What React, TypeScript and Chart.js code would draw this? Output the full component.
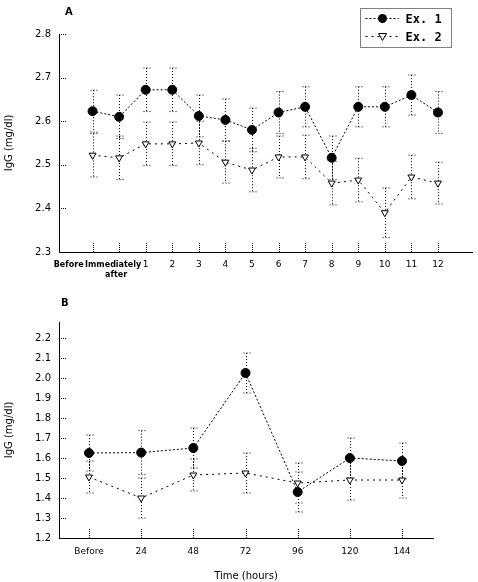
import React, { useEffect, useRef } from 'react';
import { Chart, registerables } from 'chart.js';

Chart.register(...registerables);

// ---------- Data ----------
const labelsA = ['Before', 'Immediately after', '1', '2', '3', '4', '5', '6', '7', '8', '9', '10', '11', '12'];
const ex1A = [2.623, 2.61, 2.672, 2.672, 2.612, 2.603, 2.58, 2.62, 2.633, 2.516, 2.633, 2.633, 2.66, 2.62];
const ex1AErr = [0.048, 0.05, 0.05, 0.05, 0.048, 0.048, 0.05, 0.048, 0.046, 0.05, 0.046, 0.046, 0.046, 0.048];
const ex2A = [2.522, 2.516, 2.548, 2.548, 2.55, 2.506, 2.488, 2.518, 2.518, 2.458, 2.465, 2.39, 2.472, 2.458];
const ex2AErr = [0.05, 0.05, 0.05, 0.05, 0.05, 0.048, 0.05, 0.048, 0.05, 0.05, 0.05, 0.057, 0.05, 0.048];
const yTicksA = [2.3, 2.4, 2.5, 2.6, 2.7, 2.8];

const labelsB = ['Before', '24', '48', '72', '96', '120', '144'];
const ex1B = [1.625, 1.627, 1.65, 2.025, 1.43, 1.6, 1.585];
const ex1BErr = [0.09, 0.11, 0.1, 0.1, 0.1, 0.1, 0.09];
const ex2B = [1.505, 1.4, 1.515, 1.525, 1.475, 1.49, 1.49];
const ex2BErr = [0.08, 0.1, 0.08, 0.1, 0.1, 0.1, 0.09];
const yTicksB = [1.2, 1.3, 1.4, 1.5, 1.6, 1.7, 1.8, 1.9, 2.0, 2.1, 2.2];

const seriesNames = ['Ex. 1', 'Ex. 2'];
const yTitle = 'IgG (mg/dl)';
const xTitleB = 'Time (hours)';

const FONT = 'DejaVu Sans';

// ---------- Plugins ----------
const errorBars = {
  id: 'errorBars',
  beforeDatasetsDraw(chart: any) {
    const { ctx, scales } = chart;
    const x = scales.x, y = scales.y;
    ctx.save();
    ctx.strokeStyle = '#000';
    ctx.lineWidth = 1;
    ctx.setLineDash([1, 2]);
    chart.data.datasets.forEach((ds: any) => {
      const errs = ds.errors;
      if (!errs) return;
      ds.data.forEach((p: any, i: number) => {
        const px = Math.round(x.getPixelForValue(p.x)) + 0.5;
        const top = y.getPixelForValue(p.y + errs[i]);
        const bot = y.getPixelForValue(p.y - errs[i]);
        ctx.beginPath();
        ctx.moveTo(px, top);
        ctx.lineTo(px, bot);
        ctx.moveTo(px - 3, top);
        ctx.lineTo(px + 4, top);
        ctx.moveTo(px - 3, bot);
        ctx.lineTo(px + 4, bot);
        ctx.stroke();
      });
    });
    ctx.restore();
  },
};

const inwardTicks = {
  id: 'inwardTicks',
  afterDraw(chart: any) {
    const { ctx, scales, chartArea } = chart;
    const x = scales.x, y = scales.y;
    ctx.save();
    ctx.strokeStyle = '#000';
    ctx.lineWidth = 1;
    ctx.setLineDash([1, 1]);
    y.ticks.forEach((t: any) => {
      const py = Math.round(y.getPixelForValue(t.value)) + 0.5;
      ctx.beginPath();
      ctx.moveTo(chartArea.left, py);
      ctx.lineTo(chartArea.left + 7, py);
      ctx.stroke();
    });
    x.ticks.forEach((t: any) => {
      const px = Math.round(x.getPixelForValue(t.value)) + 0.5;
      ctx.beginPath();
      ctx.moveTo(px, chartArea.bottom);
      ctx.lineTo(px, chartArea.bottom - 9);
      ctx.stroke();
    });
    ctx.restore();
  },
};

function panelLetter(letter: string, dx: number, dy: number) {
  return {
    id: 'panelLetter' + letter,
    afterDraw(chart: any) {
      const { ctx, chartArea } = chart;
      ctx.save();
      ctx.fillStyle = '#000';
      ctx.font = `bold 10px ${FONT}`;
      ctx.textAlign = 'left';
      ctx.textBaseline = 'middle';
      ctx.fillText(letter, chartArea.left + dx, dy);
      ctx.restore();
    },
  };
}

const firstLabelsA = {
  id: 'firstLabelsA',
  afterDraw(chart: any) {
    const { ctx, scales, chartArea } = chart;
    const x = scales.x;
    const p0 = x.getPixelForValue(0);
    const p1 = x.getPixelForValue(1);
    const base = chartArea.bottom + 13;
    const parts = labelsA[1].split(' ');
    ctx.save();
    ctx.fillStyle = '#000';
    ctx.font = `bold 8px ${FONT}`;
    ctx.textBaseline = 'middle';
    ctx.textAlign = 'right';
    ctx.fillText(labelsA[0], p0 - 9, base);
    ctx.textAlign = 'center';
    ctx.fillText(parts[0], p1 - 6, base);
    ctx.fillText(parts[1], p1 - 3, base + 10);
    ctx.restore();
  },
};

const legendBox = {
  id: 'legendBox',
  afterDraw(chart: any) {
    const { ctx } = chart;
    const bx = 360.5, by = 8.5, bw = 91, bh = 39;
    ctx.save();
    ctx.strokeStyle = '#000';
    ctx.lineWidth = 1;
    ctx.setLineDash([1, 1]);
    ctx.strokeRect(bx, by, bw, bh);
    const rows = [by + 10, by + 28];
    chart.data.datasets.forEach((ds: any, i: number) => {
      const yy = rows[i];
      ctx.setLineDash(ds.borderDash);
      ctx.beginPath();
      ctx.moveTo(bx + 5, yy);
      ctx.lineTo(bx + 38, yy);
      ctx.stroke();
      ctx.setLineDash([]);
      const cx = bx + 22;
      if (i === 0) {
        ctx.fillStyle = '#000';
        ctx.beginPath();
        ctx.arc(cx, yy, 4.5, 0, Math.PI * 2);
        ctx.fill();
      } else {
        ctx.fillStyle = '#fff';
        ctx.beginPath();
        ctx.moveTo(cx - 4, yy - 3);
        ctx.lineTo(cx + 4, yy - 3);
        ctx.lineTo(cx, yy + 4);
        ctx.closePath();
        ctx.fill();
        ctx.stroke();
      }
      ctx.fillStyle = '#000';
      ctx.font = `bold 12px "DejaVu Sans Mono"`;
      ctx.textAlign = 'left';
      ctx.textBaseline = 'middle';
      ctx.fillText(ds.label, bx + 45, yy + 1);
    });
    ctx.restore();
  },
};

// ---------- Builders ----------
function makeDatasets(e1: number[], e1Err: number[], e2: number[], e2Err: number[]) {
  return [
    {
      label: seriesNames[0],
      data: e1.map((v, i) => ({ x: i, y: v })),
      errors: e1Err,
      borderColor: '#000',
      backgroundColor: '#000',
      borderWidth: 1,
      borderDash: [2, 2],
      pointStyle: 'circle',
      pointRadius: 4.5,
      pointBackgroundColor: '#000',
      pointBorderColor: '#000',
      pointBorderWidth: 1,
      tension: 0,
    },
    {
      label: seriesNames[1],
      data: e2.map((v, i) => ({ x: i, y: v })),
      errors: e2Err,
      borderColor: '#000',
      backgroundColor: '#fff',
      borderWidth: 1,
      borderDash: [2, 4],
      pointStyle: 'triangle',
      rotation: 180,
      pointRadius: 4,
      pointBackgroundColor: '#fff',
      pointBorderColor: '#000',
      pointBorderWidth: 1,
      tension: 0,
    },
  ];
}

function yScale(min: number, max: number, ticks: number[]) {
  return {
    type: 'linear',
    min,
    max,
    afterBuildTicks: (s: any) => {
      s.ticks = ticks.map((v) => ({ value: v }));
    },
    afterFit: (s: any) => {
      s.width = 59;
    },
    grid: { display: false, drawTicks: false },
    border: { display: true, color: '#000', width: 1, dash: [1, 1] },
    ticks: {
      color: '#000',
      font: { family: FONT, size: 10 },
      padding: 8,
      callback: (v: any) => Number(v).toFixed(1),
    },
    title: {
      display: true,
      text: yTitle,
      color: '#000',
      font: { family: FONT, size: 10 },
      padding: { top: 3, bottom: 0 },
    },
  };
}

function ChartA() {
  const ref = useRef<HTMLCanvasElement>(null);
  useEffect(() => {
    if (!ref.current) return;
    const chart = new Chart(ref.current, {
      type: 'line',
      data: { datasets: makeDatasets(ex1A, ex1AErr, ex2A, ex2AErr) as any },
      options: {
        animation: false,
        responsive: false,
        layout: { padding: { top: 34, left: 0, right: 0, bottom: 0 } },
        plugins: { legend: { display: false }, tooltip: { enabled: false } },
        scales: {
          x: {
            type: 'linear',
            min: -1.263,
            max: 14.3,
            afterBuildTicks: (s: any) => {
              s.ticks = labelsA.map((_, i) => ({ value: i }));
            },
            afterFit: (s: any) => {
              s.height = 38;
            },
            grid: { display: false, drawTicks: false },
            border: { display: true, color: '#000', width: 1, dash: [1, 1] },
            ticks: {
              autoSkip: false,
              maxRotation: 0,
              color: '#000',
              font: { family: FONT, size: 9 },
              padding: 7,
              callback: (v: any) => {
                const i = Math.round(Number(v));
                return i >= 2 ? labelsA[i] : '';
              },
            },
          },
          y: yScale(2.3, 2.8, yTicksA),
        },
      } as any,
      plugins: [errorBars, inwardTicks, firstLabelsA, legendBox, panelLetter('A', 6, 12)],
    });
    return () => chart.destroy();
  }, []);
  return <canvas ref={ref} width={478} height={290} style={{ display: 'block' }} />;
}

function ChartB() {
  const ref = useRef<HTMLCanvasElement>(null);
  useEffect(() => {
    if (!ref.current) return;
    const chart = new Chart(ref.current, {
      type: 'line',
      data: { datasets: makeDatasets(ex1B, ex1BErr, ex2B, ex2BErr) as any },
      options: {
        animation: false,
        responsive: false,
        layout: { padding: { top: 32, left: 0, right: 45, bottom: 0 } },
        plugins: { legend: { display: false }, tooltip: { enabled: false } },
        scales: {
          x: {
            type: 'linear',
            min: -0.575,
            max: 6.594,
            afterBuildTicks: (s: any) => {
              s.ticks = labelsB.map((_, i) => ({ value: i }));
            },
            afterFit: (s: any) => {
              s.height = 44;
            },
            grid: { display: false, drawTicks: false },
            border: { display: true, color: '#000', width: 1, dash: [1, 1] },
            ticks: {
              autoSkip: false,
              maxRotation: 0,
              color: '#000',
              font: { family: FONT, size: 9 },
              padding: 8,
              callback: (v: any) => labelsB[Math.round(Number(v))] ?? '',
            },
            title: {
              display: true,
              text: xTitleB,
              color: '#000',
              font: { family: FONT, size: 10 },
              padding: { top: 4, bottom: 0 },
            },
          },
          y: yScale(1.2, 2.28, yTicksB),
        },
      } as any,
      plugins: [errorBars, inwardTicks, panelLetter('B', 2, 13)],
    });
    return () => chart.destroy();
  }, []);
  return <canvas ref={ref} width={478} height={292} style={{ display: 'block' }} />;
}

export default function App() {
  return (
    <div style={{ position: 'absolute', left: 0, top: 0, width: 478, height: 582, background: '#fff' }}>
      <ChartA />
      <ChartB />
    </div>
  );
}
